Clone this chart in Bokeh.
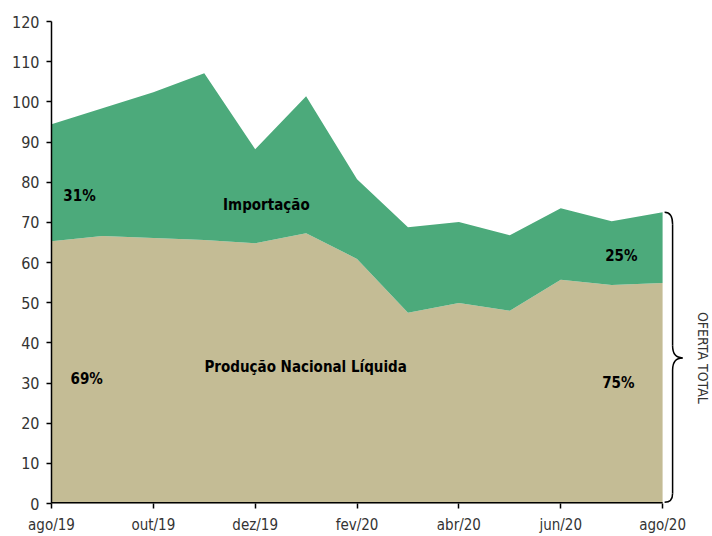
import numpy as np
from bokeh.plotting import figure
from bokeh.models import Range1d, FixedTicker
from bokeh.core.properties import value
from bokeh.embed import file_html
from bokeh.resources import INLINE

# ---- data ----
months = ["ago/19", "set/19", "out/19", "nov/19", "dez/19", "jan/20", "fev/20",
          "mar/20", "abr/20", "mai/20", "jun/20", "jul/20", "ago/20"]
producao = [65.3, 66.6, 66.1, 65.6, 64.8, 67.3, 60.9, 47.5, 49.9, 48.0, 55.7, 54.4, 54.9]
importacao = [29.1, 31.8, 36.3, 41.5, 23.4, 34.1, 19.8, 21.3, 20.2, 18.8, 17.8, 15.9, 17.6]
y_ticks = [0, 10, 20, 30, 40, 50, 60, 70, 80, 90, 100, 110, 120]

ann_text = ["31%", "Importação", "25%", "69%", "Produção Nacional Líquida", "75%"]
ann_x = [0.55, 4.22, 11.19, 0.69, 4.99, 11.13]
ann_y = [76.5, 74.3, 61.6, 31.1, 34.0, 30.1]

FONT = "DejaVu Sans Condensed"
GREEN = "#4caa7b"
BEIGE = "#c4bc95"

x = np.arange(len(months))
prod = np.array(producao)
total = prod + np.array(importacao)

p = figure(width=712, height=536, output_backend="svg", toolbar_location=None,
           x_range=Range1d(0, 12.98), y_range=Range1d(0, 120),
           min_border_left=51, min_border_right=0, min_border_top=21,
           min_border_bottom=32)
p.outline_line_color = None
p.xgrid.visible = False
p.ygrid.visible = False

p.varea(x=x, y1=0, y2=prod, fill_color=BEIGE)
p.varea(x=x, y1=prod, y2=total, fill_color=GREEN)

# bottom axis line only up to last month
p.segment(x0=[0], y0=[0], x1=[x[-1]], y1=[0], line_color="black", line_width=3)

# axes
p.xaxis.ticker = FixedTicker(ticks=list(x[::2]))
p.xaxis.major_label_overrides = {int(i): months[i] for i in x[::2]}
p.xaxis.axis_line_color = None
p.yaxis.ticker = FixedTicker(ticks=y_ticks)
for ax in (p.xaxis, p.yaxis):
    ax.major_tick_in = 0
    ax.major_tick_out = 5
    ax.minor_tick_line_color = None
    ax.major_tick_line_color = "black"
    ax.major_tick_line_width = 1.5
    ax.major_label_text_font = FONT
    ax.major_label_text_color = "#333333"
p.xaxis.major_label_text_font_size = "15px"
p.yaxis.major_label_text_font_size = "16px"
p.yaxis.axis_line_color = "black"
p.yaxis.axis_line_width = 1.5
p.yaxis.major_label_standoff = 7
p.xaxis.major_label_standoff = 7

# annotations
p.text(x=ann_x, y=ann_y, text=ann_text, text_font=value(FONT),
       text_font_style="bold", text_font_size="15px", text_color="black",
       text_align="center", text_baseline="middle")

# brace for total supply
T = total[-1]
M = T / 2
dx = 1.0 / 50.92
x0 = x[-1] + 2 * dx
xv = x[-1] + 10 * dx
xt = x[-1] + 20 * dx
r = 3.0
p.quadratic(x0=[x0, xv, xt, xv], y0=[T, M + r, M, 2.5],
            x1=[xv, xt, xv, x0], y1=[T - r, M, M - r, 0.3],
            cx=[xv, xv, xv, xv], cy=[T, M, M, 0.3],
            line_color="black", line_width=1.5)
p.segment(x0=[xv, xv], y0=[T - r, M - r], x1=[xv, xv], y1=[M + r, 2.5],
          line_color="black", line_width=1.5)

p.text(x=[x[-1] + 40 * dx], y=[M], text=["OFERTA TOTAL"], angle=-np.pi / 2,
       text_font=value(FONT), text_font_size="14px", text_color="#333333",
       text_align="center", text_baseline="middle")

open("out.html", "w").write(file_html(p, INLINE))
